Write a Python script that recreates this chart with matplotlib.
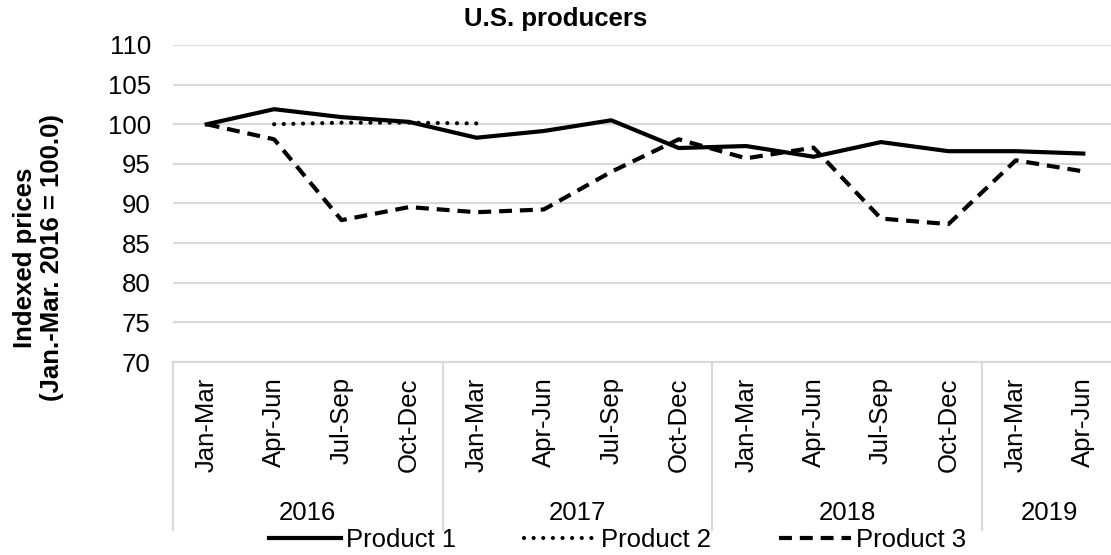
import matplotlib.pyplot as plt
import matplotlib.transforms as mtransforms
import numpy as np

plt.rcParams['font.family'] = ['Liberation Sans', 'DejaVu Sans']

quarters = ['Jan-Mar', 'Apr-Jun', 'Jul-Sep', 'Oct-Dec'] * 3 + ['Jan-Mar', 'Apr-Jun']
years = ['2016', '2017', '2018', '2019']
year_counts = [4, 4, 4, 2]

product1 = [100.0, 101.9, 100.9, 100.3, 98.3, 99.15, 100.5, 97.0, 97.25, 95.9, 97.75, 96.6, 96.6, 96.3]
product2 = [np.nan, 100.0, 100.2, 100.2, 100.1] + [np.nan] * 9
product3 = [100.0, 98.1, 87.9, 89.55, 88.9, 89.25, 94.0, 98.1, 95.7, 97.05, 88.1, 87.4, 95.45, 94.05]

yticks = [70, 75, 80, 85, 90, 95, 100, 105, 110]
grid_col = '#d9d9d9'
fs = 18.5

fig = plt.figure(figsize=(11.11, 5.55), dpi=100)
ax = fig.add_axes([173 / 1111, 1 - 362 / 555, 944 / 1111, 317 / 555])

x = np.arange(len(quarters))
ax.plot(x, product1, color='black', lw=3, solid_joinstyle='miter', label='Product 1')
ax.plot(x, product2, color='black', lw=3, linestyle=(0, (0.01, 2.3)), dash_capstyle='round',
        label='Product 2')
ax.plot(x, product3, color='black', lw=3, linestyle=(0, (3.1, 1.9)), label='Product 3')

ax.set_xlim(-0.5, len(quarters) - 0.5)
ax.set_ylim(70, 110)
ax.set_yticks(yticks)
ax.tick_params(axis='y', length=0, labelsize=fs, pad=16)
ax.tick_params(axis='x', length=0, labelsize=fs, pad=11)
ax.set_xticks(x)
ax.set_xticklabels(quarters, rotation=90, va='top')
ax.grid(axis='y', color=grid_col, lw=1.5)
ax.set_axisbelow(True)
for s in ['left', 'right', 'top']:
    ax.spines[s].set_visible(False)
ax.spines['bottom'].set_color(grid_col)
ax.spines['bottom'].set_linewidth(1.5)

# year groups and separators below the axis
trans = mtransforms.blended_transform_factory(ax.transData, ax.transAxes)
start = 0
bounds = [-0.5]
for yr, n in zip(years, year_counts):
    center = start + (n - 1) / 2
    ax.text(center, -0.475, yr, transform=trans, ha='center', va='center', fontsize=fs)
    start += n
    bounds.append(start - 0.5)
for b in bounds:
    ax.plot([b, b], [0, -0.53], transform=trans, color=grid_col, lw=1.5, clip_on=False)

fig.text(0.5, 1 - 26 / 555, 'U.S. producers', ha='center', va='baseline',
         fontsize=fs, fontweight='bold')
fig.text(0.0347, 1 - 258 / 555, 'Indexed prices\n(Jan.-Mar. 2016 = 100.0)', rotation=90,
         ha='center', va='center', fontsize=fs, fontweight='bold', linespacing=1.15)

fig.legend(loc='center', bbox_to_anchor=(0.556, 0.027), ncol=3, frameon=False,
           fontsize=fs, handlelength=2.8, handletextpad=0.2, columnspacing=2.65,
           borderaxespad=0, borderpad=0)

fig.savefig('out.png', dpi=100)
